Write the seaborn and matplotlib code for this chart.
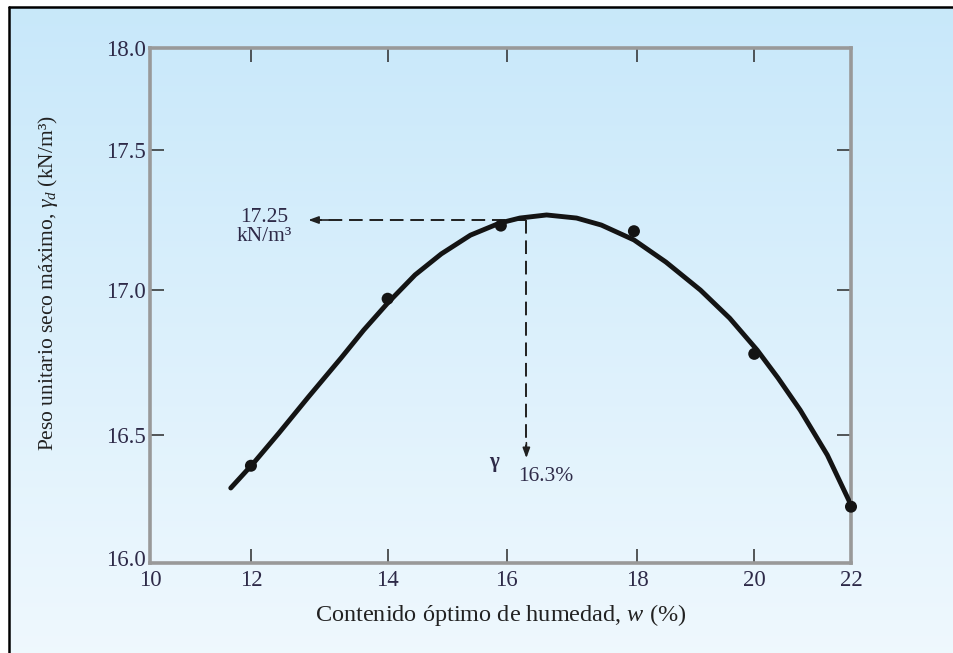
import numpy as np
import pandas as pd
import matplotlib
matplotlib.use("Agg")
import matplotlib.pyplot as plt
from matplotlib.lines import Line2D
from matplotlib.transforms import ScaledTranslation
import seaborn as sns

# Compaction test results
W_TEST = [12.0, 14.0, 15.9, 17.95, 20.0, 22.0]
GAMMA_TEST = [16.38, 16.97, 17.23, 17.21, 16.78, 16.22]

# Smooth compaction curve drawn through the test points
W_CURVE = [11.60, 12.04, 12.41, 12.84, 13.32, 13.65, 14.00, 14.46, 14.90, 15.39,
           15.88, 16.20, 16.61, 17.07, 17.45, 17.95, 18.49, 19.08, 19.58, 20.06,
           20.49, 20.95, 21.51, 22.00]
GAMMA_CURVE = [16.293, 16.391, 16.507, 16.631, 16.766, 16.862, 16.955, 17.054, 17.129,
               17.196, 17.239, 17.257, 17.268, 17.257, 17.232, 17.179, 17.100, 17.000,
               16.903, 16.793, 16.697, 16.586, 16.422, 16.227]

GAMMA_MAX = 17.25
W_OPT = 16.3

X_TICKS = [10, 12, 14, 16, 18, 20, 22]
Y_TICKS = [16.0, 16.5, 17.0, 17.5, 18.0]
# uneven tick spacing along each axis (fraction of axis length)
X_TICK_FRAC = [0.0, 0.144, 0.339, 0.509, 0.695, 0.862, 1.0]
Y_TICK_FRAC = [0.0, 0.2485, 0.530, 0.802, 1.0]


def piecewise_scale(ticks, fracs):
    t = np.asarray(ticks, float)
    f = np.asarray(fracs, float)
    span = t[-1] - t[0]
    lin = t[0] + f * span
    s0 = (lin[1] - lin[0]) / (t[1] - t[0])
    s1 = (lin[-1] - lin[-2]) / (t[-1] - t[-2])
    t_ext = np.concatenate([[t[0] - 1000], t, [t[-1] + 1000]])
    l_ext = np.concatenate([[lin[0] - 1000 * s0], lin, [lin[-1] + 1000 * s1]])

    def forward(v):
        return np.interp(np.asarray(v, float), t_ext, l_ext)

    def inverse(v):
        return np.interp(np.asarray(v, float), l_ext, t_ext)

    return forward, inverse


sns.set_style("ticks")
plt.rcParams["font.family"] = ["Liberation Serif", "DejaVu Serif"]
plt.rcParams["mathtext.fontset"] = "custom"
plt.rcParams["mathtext.rm"] = "Liberation Serif"
plt.rcParams["mathtext.it"] = "Liberation Serif:italic"
plt.rcParams["mathtext.bf"] = "Liberation Serif:bold"

fig = plt.figure(figsize=(9.54, 6.53), dpi=100)
fig.patch.set_facecolor("white")

# light blue background panel with vertical gradient
W_PX, H_PX = 954, 653
bx0, by1 = 9 / W_PX, 1 - 7 / H_PX
bg = fig.add_axes([bx0, 0, 1 - bx0, by1], zorder=-10)
top = np.array([0.784, 0.910, 0.980])
bottom = np.array([0.937, 0.973, 0.996])
tgrad = np.linspace(0, 1, 256)[:, None, None]
grad = top * (1 - tgrad) + bottom * tgrad
bg.imshow(np.repeat(grad, 4, axis=1), aspect="auto", extent=[0, 1, 0, 1])
bg.set_axis_off()
fig.add_artist(Line2D([bx0, bx0], [0, by1], transform=fig.transFigure,
                      color="black", lw=1.8))
fig.add_artist(Line2D([bx0, 1], [by1, by1], transform=fig.transFigure,
                      color="black", lw=1.8))

ax = fig.add_axes([150 / W_PX, 1 - 563 / H_PX, 701 / W_PX, 515 / H_PX])
ax.patch.set_alpha(0)
ax.set_xscale("function", functions=piecewise_scale(X_TICKS, X_TICK_FRAC))
ax.set_yscale("function", functions=piecewise_scale(Y_TICKS, Y_TICK_FRAC))
ax.set_xlim(X_TICKS[0], X_TICKS[-1])
ax.set_ylim(Y_TICKS[0], Y_TICKS[-1])

curve = pd.DataFrame({"w": W_CURVE, "gamma": GAMMA_CURVE})
tests = pd.DataFrame({"w": W_TEST, "gamma": GAMMA_TEST})
sns.lineplot(data=curve, x="w", y="gamma", ax=ax, color="#141414", lw=3.5,
             sort=False, solid_capstyle="round", solid_joinstyle="round", zorder=3)
sns.scatterplot(data=tests, x="w", y="gamma", ax=ax, color="#141414", s=75,
                edgecolor="none", zorder=4, clip_on=False)

# dashed guides to the maximum dry unit weight and optimum moisture content
dash = dict(color="#202020", lw=1.4, dashes=(7, 3.5), zorder=2)
x_arrow_tip = 12.84
y_arrow_tip = 16.41
ax.plot([W_OPT, x_arrow_tip + 0.12], [GAMMA_MAX, GAMMA_MAX], **dash)
ax.plot([W_OPT, W_OPT], [GAMMA_MAX, y_arrow_tip + 0.03], **dash)
head = dict(arrowstyle="-|>,head_length=0.6,head_width=0.22", color="#202020",
            lw=1.2, shrinkA=0, shrinkB=0)
ax.annotate("", xy=(x_arrow_tip, GAMMA_MAX), xytext=(x_arrow_tip + 0.3, GAMMA_MAX),
            arrowprops=head)
ax.annotate("", xy=(W_OPT, y_arrow_tip), xytext=(W_OPT, y_arrow_tip + 0.06),
            arrowprops=head)

ax.text(12.2, 17.225, "17.25\nkN/m³", ha="center", va="center", fontsize=15.5,
        color="#2e2a48", linespacing=1.0, multialignment="center")
ax.text(15.78, 16.395, "γ", ha="center", va="center", fontsize=15, color="#2e2a48",
        fontweight="bold")
ax.text(16.18, 16.336, "16.3%", ha="left", va="center", fontsize=15.5, color="#2e2a48")

ax.set_xticks(X_TICKS)
ax.set_yticks(Y_TICKS)
ax.set_xticklabels([f"{v:d}" for v in X_TICKS])
ax.set_yticklabels([f"{v:.1f}" for v in Y_TICKS])
ax.minorticks_off()
ax.tick_params(direction="in", length=10, width=1.1, color="#2a2a2a",
               top=True, right=True, labelsize=16.5, labelcolor="#2e2a48")
ax.tick_params(axis="y", pad=3)
ax.tick_params(axis="x", pad=5)
# lift the lowest y label a little so it clears the first x label
lowest = ax.yaxis.get_major_ticks()[0].label1
lowest.set_transform(lowest.get_transform()
                     + ScaledTranslation(0, 5 / 100, fig.dpi_scale_trans))
for sp in ax.spines.values():
    sp.set_color("#999999")
    sp.set_linewidth(2.6)
    sp.set_visible(True)

ax.set_xlabel("Contenido óptimo de humedad, $\\mathbf{\\mathit{w}}$ (%)",
              fontsize=17.5, color="#222222")
ax.xaxis.set_label_coords(0.5, -0.101, transform=ax.transAxes)
ax.xaxis.label.set_verticalalignment("center")
ax.set_ylabel("Peso unitario seco máximo, $\\gamma_d$ (kN/m³)",
              fontsize=15.5, color="#222222")
ax.yaxis.set_label_coords(-0.1455, 0.544, transform=ax.transAxes)
ax.yaxis.label.set_verticalalignment("center")

fig.savefig("out.png", dpi=100, facecolor=fig.get_facecolor())
